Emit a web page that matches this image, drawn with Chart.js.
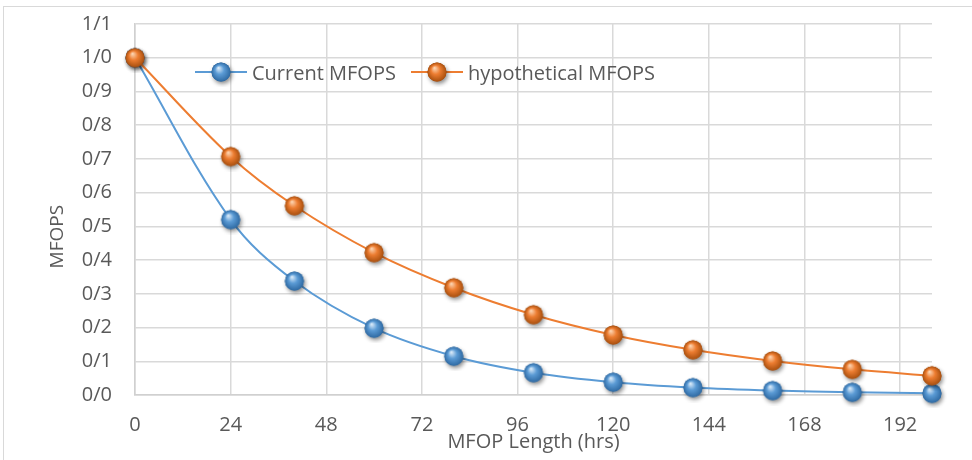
<!DOCTYPE html>
<html>
<head>
<meta charset="utf-8">
<script src="https://cdn.jsdelivr.net/npm/chart.js@4.4.1/dist/chart.umd.min.js"></script>
<style>
  html, body { margin: 0; padding: 0; background: #fff; overflow: hidden; }
  #wrap { position: relative; width: 972px; height: 460px; }
  #frame { position: absolute; left: 3px; top: 6px; width: 990px; height: 480px; border: 1px solid #d9d9d9; pointer-events: none; }
  #legend { position: absolute; left: 195px; top: 57px; display: flex; align-items: center;
            font-family: 'Open Sans', sans-serif; font-size: 20px; color: #595959; white-space: nowrap; }
  .item { display: flex; align-items: center; margin-right: 15px; }
  .item canvas { margin-right: 5px; }
</style>
</head>
<body>
<div id="wrap">
  <canvas id="chart" width="972" height="460"></canvas>
  <div id="frame"></div>
  <div id="legend"></div>
</div>
<script>
// datos
const hours = [0, 24, 40, 60, 80, 100, 120, 140, 160, 180, 200];
const currentMfops = [1.0, 0.52, 0.338, 0.198, 0.115, 0.066, 0.038, 0.022, 0.013, 0.008, 0.005];
const hypotheticalMfops = [1.0, 0.707, 0.561, 0.422, 0.318, 0.238, 0.178, 0.134, 0.101, 0.076, 0.057];
const seriesNames = ['Current MFOPS', 'hypothetical MFOPS'];
const xTicks = [0, 24, 48, 72, 96, 120, 144, 168, 192];
const yTicks = [0, 0.1, 0.2, 0.3, 0.4, 0.5, 0.6, 0.7, 0.8, 0.9, 1.0, 1.1];
const yTickLabels = ['0/0', '0/1', '0/2', '0/3', '0/4', '0/5', '0/6', '0/7', '0/8', '0/9', '1/0', '1/1'];

const blue = { base: '#5b9bd5', light: '#d6e8f8', dark: '#2f6aa3' };
const orange = { base: '#ed7d31', light: '#fcd2ae', dark: '#a9500f' };

// esfera 3D para los marcadores
function drawSphere(ctx, cx, cy, r, col) {
  ctx.save();
  ctx.shadowColor = 'rgba(0,0,0,0.45)';
  ctx.shadowBlur = 4;
  ctx.shadowOffsetX = 1.5;
  ctx.shadowOffsetY = 2.5;
  ctx.fillStyle = col.dark;
  ctx.beginPath(); ctx.arc(cx, cy, r, 0, Math.PI * 2); ctx.fill();
  ctx.restore();
  const g = ctx.createRadialGradient(cx - 2.5, cy - 4, 0.5, cx, cy, r);
  g.addColorStop(0, col.light);
  g.addColorStop(0.45, col.base);
  g.addColorStop(1, col.dark);
  ctx.fillStyle = g;
  ctx.beginPath(); ctx.arc(cx, cy, r, 0, Math.PI * 2); ctx.fill();
}

function markerImage(col) {
  const c = document.createElement('canvas');
  c.width = 30; c.height = 30;
  drawSphere(c.getContext('2d'), 15, 15, 9.5, col);
  return c;
}

function legendImage(col) {
  const c = document.createElement('canvas');
  c.width = 52; c.height = 30;
  const ctx = c.getContext('2d');
  ctx.strokeStyle = col.base;
  ctx.lineWidth = 2;
  ctx.beginPath(); ctx.moveTo(0, 15); ctx.lineTo(52, 15); ctx.stroke();
  drawSphere(ctx, 26, 15, 9.5, col);
  return c;
}

const colors = [blue, orange];

const data = {
  datasets: [{
    label: seriesNames[0],
    data: hours.map((h, i) => ({ x: h, y: currentMfops[i] })),
    borderColor: blue.base,
    borderWidth: 2,
    pointStyle: markerImage(blue),
    tension: 0.35,
    clip: false,
    order: 1
  }, {
    label: seriesNames[1],
    data: hours.map((h, i) => ({ x: h, y: hypotheticalMfops[i] })),
    borderColor: orange.base,
    borderWidth: 2,
    pointStyle: markerImage(orange),
    tension: 0.35,
    clip: false,
    order: 0
  }]
};

const gridColor = '#d9d9d9';

const config = {
  type: 'line',
  data: data,
  options: {
    responsive: false,
    animation: false,
    events: [],
    layout: { padding: { left: 46, top: 24, right: 40, bottom: 6 } },
    plugins: {
      legend: { display: false },
      tooltip: { enabled: false }
    },
    scales: {
      x: {
        type: 'linear',
        min: 0,
        max: 200,
        afterBuildTicks: (axis) => { axis.ticks = xTicks.map(v => ({ value: v })); },
        afterFit: (axis) => { axis.height = 59; },
        grid: { color: gridColor, lineWidth: 1.5, drawTicks: false },
        border: { color: '#d0d0d0', width: 1.5 },
        ticks: { padding: 18, color: '#595959', font: { size: 20 } },
        title: { display: true, text: 'MFOP Length (hrs)', color: '#595959', font: { size: 20 }, padding: 0 }
      },
      y: {
        min: 0,
        max: 1.1,
        afterBuildTicks: (axis) => { axis.ticks = yTicks.map(v => ({ value: v })); },
        afterFit: (axis) => { axis.width = 89; axis.paddingTop = 0; },
        grid: { color: gridColor, lineWidth: 1.5, drawTicks: false },
        border: { color: '#d0d0d0', width: 1.5 },
        ticks: {
          padding: 23,
          color: '#595959',
          font: { size: 20 },
          callback: (value, index) => yTickLabels[index]
        },
        title: { display: true, text: 'MFOPS           ', color: '#595959', font: { size: 19 }, padding: 0 }
      }
    }
  }
};

Chart.defaults.font.family = "'Open Sans', sans-serif";

const mfopsChart = new Chart(document.getElementById('chart'), config);

// leyenda en HTML dentro del area del grafico
const legendBox = document.getElementById('legend');
data.datasets.forEach((ds, i) => {
  const item = document.createElement('div');
  item.className = 'item';
  item.appendChild(legendImage(colors[i]));
  const span = document.createElement('span');
  span.textContent = ds.label;
  item.appendChild(span);
  legendBox.appendChild(item);
});
</script>
</body>
</html>
